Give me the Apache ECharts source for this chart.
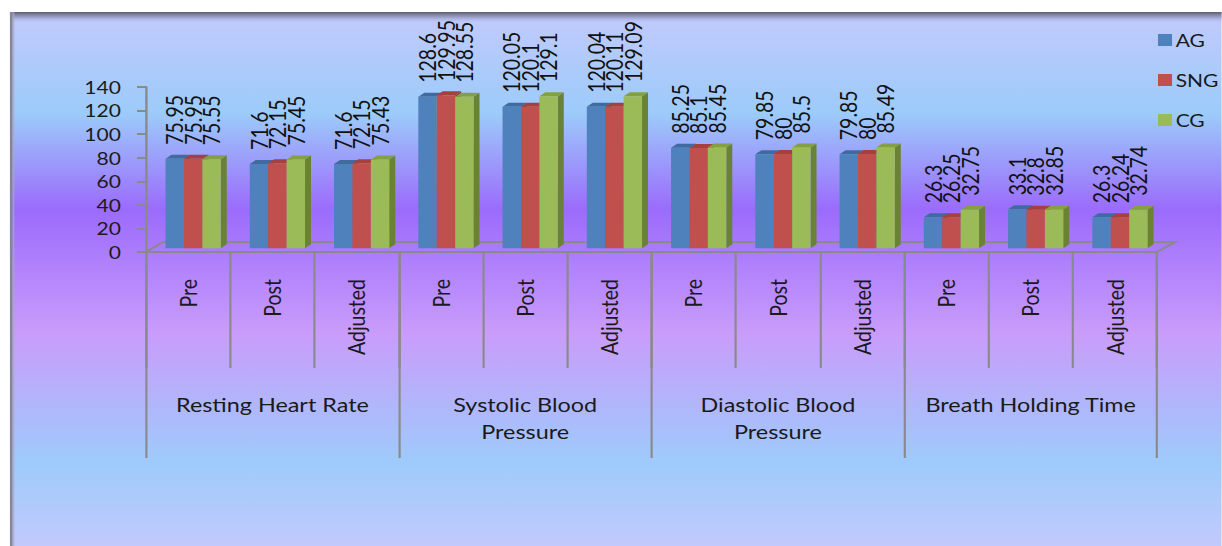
<!DOCTYPE html>
<html>
<head>
<meta charset="utf-8">
<script src="https://cdn.jsdelivr.net/npm/echarts@6/dist/echarts.min.js"></script>
<style>
  html, body { margin: 0; padding: 0; background: #ffffff; overflow: hidden; }
  /* the chart is laid out on a narrower canvas and widened to the page */
  #wrap { position: absolute; left: 0; top: 0; width: 1018.33px; height: 546px;
          transform: scaleX(1.2); transform-origin: 0 0; }
  #chart { width: 1018.33px; height: 546px; }
</style>
</head>
<body>
<div id="wrap"><div id="chart"></div></div>
<script>
// Measurement phases within each outcome
const phases = ['Pre', 'Post', 'Adjusted'];
// Outcome groups
const groups = ['Resting Heart Rate', 'Systolic Blood\nPressure', 'Diastolic Blood\nPressure', 'Breath Holding Time'];
// Group means per phase
const AG  = [75.95, 71.6, 71.6, 128.6, 120.05, 120.04, 85.25, 79.85, 79.85, 26.3, 33.1, 26.3];
const SNG = [75.95, 72.15, 72.15, 129.95, 120.1, 120.11, 85.1, 80, 80, 26.25, 32.8, 26.24];
const CG  = [75.55, 75.45, 75.43, 128.55, 129.1, 129.09, 85.45, 85.5, 85.49, 32.75, 32.85, 32.74];
const seriesNames = ['AG', 'SNG', 'CG'];
const yTicks = { min: 0, max: 140, interval: 20 };

const categories = groups.flatMap(() => phases);
const seriesValues = [AG, SNG, CG];

// face colours: front, top, side
const palette = [
  { front: '#4f81bd', top: '#3f6b9f', side: '#385f8e' },
  { front: '#c0504d', top: '#a4403d', side: '#8c3836' },
  { front: '#9bbb59', top: '#83a142', side: '#6a8236' }
];

const W = 1018.33, H = 546;
const GRID = { left: 121.7, right: 54.1, top: 87, bottom: 294 };
const AXIS_GRAY = '#8a8a8a';
const FONT = 'Lato';

function makeBarRenderer(k) {
  return function (params, api) {
    const ci = api.value(0), v = api.value(1);
    const top = api.coord([ci, v]);
    const base = api.coord([ci, 0]);
    const cw = api.size([1, 0])[0];
    const bw = cw * 0.2185;
    const x0 = top[0] - cw / 2 + cw * 0.2315 + k * bw;
    const lift = 3.7;
    const yTop = top[1] - lift, yBot = base[1] - lift;
    const dx = cw * 0.071, dy = -4;
    const c = palette[k];
    return {
      type: 'group',
      children: [
        { type: 'polygon', shape: { points: [[x0 + bw, yTop], [x0 + bw + dx, yTop + dy], [x0 + bw + dx, yBot + dy], [x0 + bw, yBot]] },
          style: { fill: c.side } },
        { type: 'polygon', shape: { points: [[x0, yTop], [x0 + dx, yTop + dy], [x0 + bw + dx, yTop + dy], [x0 + bw, yTop]] },
          style: { fill: c.top } },
        { type: 'rect', shape: { x: x0, y: yTop, width: bw, height: yBot - yTop },
          style: { fill: c.front } },
        { type: 'text', x: x0 + bw / 2, y: yTop - 14, rotation: Math.PI / 2,
          style: { text: String(v), fontSize: 19.5, fontFamily: FONT, fill: '#111111',
                   align: 'left', verticalAlign: 'middle' } }
      ]
    };
  };
}

const chart = echarts.init(document.getElementById('chart'), null, { renderer: 'svg', width: W, height: H });

const plotRight = W - GRID.right;
const floorY = H - GRID.bottom;

chart.setOption({
  animation: false,
  graphic: [
    { type: 'rect', z: -20, shape: { x: 8.3, y: 12, width: W - 8.3, height: H - 12 },
      style: { fill: new echarts.graphic.LinearGradient(0, 0, 0, 1, [
        { offset: 0, color: '#c2cafc' },
        { offset: 0.19, color: '#9ccbfa' },
        { offset: 0.37, color: '#9b6bfc' },
        { offset: 0.60, color: '#c99cfb' },
        { offset: 0.845, color: '#9ecbfb' },
        { offset: 1, color: '#c2c9fc' }
      ]) } },
    { type: 'rect', z: -19, shape: { x: 8.3, y: 12, width: W - 8.3, height: 11 },
      style: { fill: new echarts.graphic.LinearGradient(0, 0, 0, 1, [
        { offset: 0, color: 'rgba(92,92,108,1)' },
        { offset: 0.45, color: 'rgba(120,120,150,0.55)' },
        { offset: 1, color: 'rgba(180,185,240,0)' }
      ]) } },
    { type: 'rect', z: -19, shape: { x: 8.3, y: 12, width: 2.2, height: H - 12 },
      style: { fill: '#85859c' } },
    { type: 'rect', z: -19, shape: { x: 10.5, y: 12, width: 1.5, height: H - 12 },
      style: { fill: 'rgba(170,170,200,0.7)' } },
    // floor outline behind the bars
    { type: 'polyline', z: 1, shape: { points: [
        [GRID.left, floorY], [GRID.left + 14.1, floorY - 10],
        [plotRight + 15, floorY - 10], [plotRight, floorY]] },
      style: { stroke: AXIS_GRAY, lineWidth: 2, fill: null } }
  ],
  legend: {
    orient: 'vertical', left: 960, top: 26,
    itemWidth: 11.7, itemHeight: 12, itemGap: 22,
    icon: 'rect',
    textStyle: { fontFamily: FONT, fontSize: 17.5, color: '#1a1a1a', padding: [0, 0, 0, -2] },
    data: seriesNames
  },
  grid: { left: GRID.left, right: GRID.right, top: GRID.top, bottom: GRID.bottom, containLabel: false },
  xAxis: [
    {
      type: 'category', data: categories, position: 'bottom',
      axisLine: { show: true, lineStyle: { color: AXIS_GRAY, width: 2 } },
      axisTick: { show: true, length: 116, lineStyle: { color: AXIS_GRAY, width: 1.8 } },
      axisLabel: { interval: 0, rotate: 90, margin: 27, fontFamily: FONT, fontSize: 19.5, color: '#1a1a1a' }
    },
    {
      type: 'category', data: groups, position: 'bottom',
      axisLine: { show: false },
      axisTick: { show: true, length: 206, lineStyle: { color: AXIS_GRAY, width: 1.8 } },
      axisLabel: { interval: 0, margin: 139, lineHeight: 27, fontFamily: FONT, fontSize: 19.5, color: '#1a1a1a' }
    }
  ],
  yAxis: {
    type: 'value', min: yTicks.min, max: yTicks.max, interval: yTicks.interval,
    axisLine: { show: true, lineStyle: { color: AXIS_GRAY, width: 2 } },
    axisTick: { show: true, length: 7.5, lineStyle: { color: AXIS_GRAY, width: 2 } },
    splitLine: { show: false },
    axisLabel: { margin: 21, fontFamily: FONT, fontSize: 17.5, color: '#1a1a1a' }
  },
  series: seriesValues.map((vals, k) => ({
    name: seriesNames[k],
    type: 'custom',
    xAxisIndex: 0,
    z: 3,
    itemStyle: { color: palette[k].front },
    encode: { x: 0, y: 1 },
    data: vals.map((v, i) => [i, v]),
    renderItem: makeBarRenderer(k)
  }))
});
</script>
</body>
</html>
